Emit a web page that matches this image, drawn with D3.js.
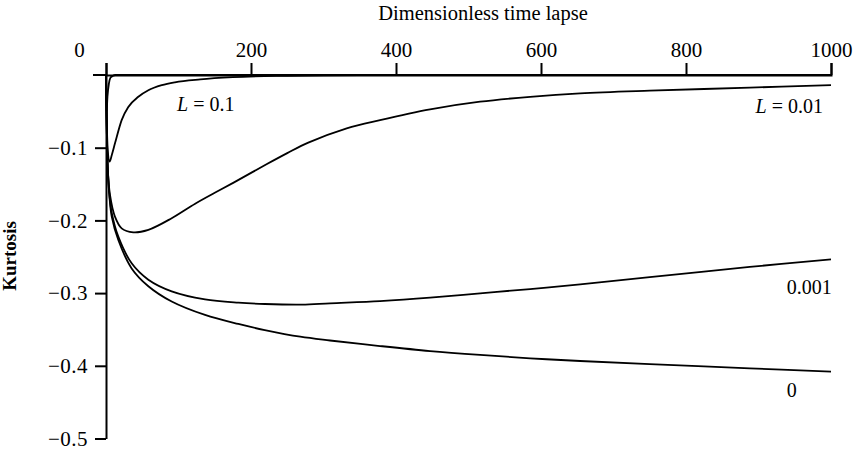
<!DOCTYPE html>
<html>
<head>
<meta charset="utf-8">
<script src="https://cdn.jsdelivr.net/npm/d3@7"></script>
<style>
  body { margin: 0; background: #fff; }
  svg { display: block; }
  svg text { font-family: "Liberation Serif", "DejaVu Serif", serif; fill: #000; }
</style>
</head>
<body>
<svg id="chart" width="854" height="450"></svg>
<script>
// Kurtosis vs dimensionless time lapse, one curve per L value
// each point is [time lapse, kurtosis]
const curveFast = [[0, 0], [0.8, -0.05], [2, -0.03], [4, -0.012], [6, -0.004], [9, -0.0015], [13, 0], [1000, 0]];
const curveL01 = [[0, 0], [1, -0.06], [2.5, -0.105], [5, -0.119], [8, -0.11], [12.4, -0.094], [21.6, -0.062],
    [30.8, -0.044], [44.6, -0.03], [58.4, -0.021], [77, -0.014], [95, -0.01], [130, -0.006], [175, -0.003],
    [250, -0.001], [350, 0], [1000, 0]];
const curveL001 = [[0, 0], [1, -0.07], [2.5, -0.13], [5.5, -0.165], [12.4, -0.195], [21.6, -0.211], [37.7, -0.2164],
    [58.4, -0.213], [90.6, -0.197], [123, -0.177], [150, -0.162], [176, -0.148], [222, -0.1225], [250, -0.1075],
    [279, -0.093], [332, -0.0734], [378, -0.062], [447, -0.0472], [516, -0.0367], [585, -0.03], [654, -0.0252],
    [750, -0.0215], [888, -0.0174], [1000, -0.0138]];
const curveL0001 = [[0, 0], [1, -0.07], [2.5, -0.13], [5, -0.168], [8, -0.19], [17, -0.2224], [35.4, -0.259],
    [58.4, -0.2815], [90.6, -0.2975], [136.6, -0.3086], [182.5, -0.3132], [219, -0.315], [270, -0.3158],
    [309, -0.314], [378, -0.311], [447, -0.3063], [516, -0.3003], [585, -0.2944], [654, -0.288],
    [750, -0.278], [888, -0.264], [1000, -0.2535]];
const curveL0 = [[0, 0], [1, -0.07], [2.5, -0.13], [5, -0.17], [8, -0.195], [17, -0.227], [35.4, -0.266],
    [58.4, -0.2905], [90.6, -0.3115], [136.6, -0.33], [182.5, -0.3425], [219, -0.3508], [268, -0.36],
    [309, -0.3652], [378, -0.3728], [447, -0.3797], [516, -0.3851], [585, -0.3897], [654, -0.3934],
    [750, -0.3978], [888, -0.4035], [1000, -0.408]];

const xTicks = [0, 200, 400, 600, 800, 1000];
const yTicks = [-0.1, -0.2, -0.3, -0.4, -0.5];

// curve labels, anchored in data units [time lapse, kurtosis]
const curveLabels = [
    { name: "L", value: "0.1", at: [98, -0.0495], anchor: "start" },
    { name: "L", value: "0.01", at: [989, -0.0523], anchor: "end" },
    { name: "", value: "0.001", at: [1001, -0.301], anchor: "end" },
    { name: "", value: "0", at: [939, -0.443], anchor: "start" }
];

const svg = d3.select('#chart');
const x = d3.scaleLinear().domain([0, 1000]).range([106, 831]);
const y = d3.scaleLinear().domain([0, -0.5]).range([75, 438.5]);

// top axis
const xAxis = svg.append('g')
    .attr('transform', `translate(0,${y(0)})`)
    .call(d3.axisTop(x).tickValues(xTicks).tickSize(12).tickSizeOuter(12).tickPadding(6).tickFormat(d3.format('d')));
xAxis.attr('font-family', null).attr('font-size', null);
xAxis.select('.domain').attr('stroke-width', 2);
xAxis.selectAll('.tick line').attr('stroke-width', 2);
xAxis.selectAll('.tick text')
    .style('font-size', '21px')
    .attr('dx', d => d === 0 ? -27 : 0);
// top line runs a bit past the vertical axis
svg.append('line')
    .attr('x1', x(0) - 13).attr('x2', x(0))
    .attr('y1', y(0)).attr('y2', y(0))
    .attr('stroke', '#000').attr('stroke-width', 2);

// left axis
const yAxis = svg.append('g')
    .attr('transform', `translate(${x(0)},0)`)
    .call(d3.axisLeft(y).tickValues(yTicks).tickSize(11).tickSizeOuter(0).tickPadding(7)
        .tickFormat(d => '\u2212' + Math.abs(d).toFixed(1)));
yAxis.attr('font-family', null).attr('font-size', null);
yAxis.select('.domain').attr('stroke-width', 2);
yAxis.selectAll('.tick line').attr('stroke-width', 2);
yAxis.selectAll('.tick text')
    .style('font-size', '21px')
    .style('letter-spacing', '0.5px');

// axis titles
svg.append('text')
    .attr('x', 483).attr('y', 20)
    .attr('text-anchor', 'middle')
    .style('font-size', '20.5px')
    .text('Dimensionless time lapse');
svg.append('text')
    .attr('transform', 'translate(16,256) rotate(-90)')
    .attr('text-anchor', 'middle')
    .style('font-size', '19px')
    .style('font-weight', 'bold')
    .text('Kurtosis');

// curves: the two that settle onto zero use monotone so they don't dip past the axis
const monoLine = d3.line()
    .x(d => x(d[0]))
    .y(d => y(d[1]))
    .curve(d3.curveMonotoneX);
const smoothLine = d3.line()
    .x(d => x(d[0]))
    .y(d => y(d[1]))
    .curve(d3.curveCatmullRom.alpha(0.5));

[[curveFast, monoLine], [curveL01, monoLine], [curveL001, smoothLine],
 [curveL0001, smoothLine], [curveL0, smoothLine]].forEach(function(c) {
    svg.append('path')
        .datum(c[0])
        .attr('d', c[1])
        .attr('fill', 'none')
        .attr('stroke', '#000')
        .attr('stroke-width', 1.8);
});

// curve labels
curveLabels.forEach(function(l) {
    const t = svg.append('text')
        .attr('x', x(l.at[0]))
        .attr('y', y(l.at[1]))
        .attr('text-anchor', l.anchor)
        .style('font-size', '20px');
    if (l.name) {
        t.append('tspan').style('font-style', 'italic').text(l.name);
        t.append('tspan').text(' = ' + l.value);
    } else {
        t.text(l.value);
    }
});
</script>
</body>
</html>
